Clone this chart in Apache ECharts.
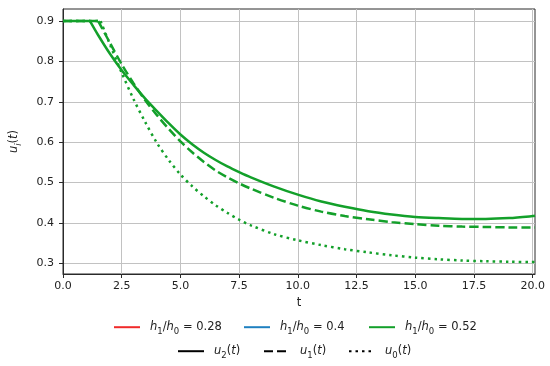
<!DOCTYPE html>
<html>
<head>
<meta charset="utf-8">
<script src="https://cdn.jsdelivr.net/npm/echarts@6/dist/echarts.min.js"></script>
<style>
html,body{margin:0;padding:0;background:#fff;}
#chart{width:550px;height:366px;}
</style>
</head>
<body>
<div id="chart"></div>
<script>
// ---- data ----
const xTicks = [0, 2.5, 5, 7.5, 10, 12.5, 15, 17.5, 20];
const yTicks = [0.3, 0.4, 0.5, 0.6, 0.7, 0.8, 0.9];

// u2(t), solid, h1/h0 = 0.52
const tU2 = [0, 1.15, 1.5, 2, 2.5, 3, 3.5, 4, 4.5, 5, 5.5, 6, 6.5, 7, 7.5, 8, 9, 10, 11, 12, 13, 14, 15, 16, 17, 18, 19, 20, 20.1];
const u2  = [0.9, 0.9, 0.865, 0.819, 0.778, 0.742, 0.708, 0.677, 0.647, 0.619, 0.595, 0.574, 0.556, 0.540, 0.526, 0.513, 0.490, 0.470, 0.453, 0.440, 0.429, 0.421, 0.415, 0.412, 0.410, 0.410, 0.412, 0.417, 0.418];

// u1(t), dashed
const tU1 = [0, 1.5, 2, 2.5, 3, 3.5, 4, 4.5, 5, 5.5, 6, 6.5, 7, 7.5, 8, 9, 10, 11, 12, 13, 14, 15, 16, 17, 18, 19, 20, 20.1];
const u1  = [0.9, 0.9, 0.846, 0.793, 0.746, 0.704, 0.667, 0.633, 0.602, 0.575, 0.551, 0.530, 0.513, 0.498, 0.485, 0.462, 0.443, 0.428, 0.417, 0.409, 0.402, 0.397, 0.393, 0.391, 0.390, 0.389, 0.389, 0.389];

// u0(t), dotted
const tU0 = [0, 1.6, 2, 2.5, 3, 3.5, 4, 4.5, 5, 5.5, 6, 6.5, 7, 7.5, 8, 9, 10, 11, 12, 13, 14, 15, 16, 17, 18, 19, 20, 20.1];
const u0  = [0.9, 0.9, 0.842, 0.772, 0.707, 0.650, 0.598, 0.556, 0.520, 0.491, 0.466, 0.444, 0.425, 0.408, 0.394, 0.372, 0.357, 0.345, 0.335, 0.327, 0.320, 0.314, 0.310, 0.307, 0.305, 0.304, 0.303, 0.303];

const ratioNames = ['0.28', '0.4', '0.52'];
const ratioColors = ['#f02a2a', '#1f80c0', '#13a02a'];
const uNames = ['2', '1', '0'];
const uTypes = ['solid', [9, 4], [2.5, 4]];

// ---- chart ----
const FONT = 'DejaVu Sans';
const pair = (ts, vs) => ts.map((t, i) => [t, vs[i]]);
const green = ratioColors[2];
const LW = 2.5;

const curves = [[tU2, u2], [tU1, u1], [tU0, u0]];
const series = [];
curves.forEach(([ts, vs], k) => {
  const pts = pair(ts, vs);
  // flat start (up to the corner) and the smooth decay after it
  series.push({type:'line', data: pts.slice(0, 2), symbol:'none', color: green, lineStyle:{width:LW, type: uTypes[k]}, z:3, silent:true});
  series.push({type:'line', data: pts.slice(1), symbol:'none', smooth:0.3, color: green, lineStyle:{width:LW, type: uTypes[k]}, z:3, silent:true});
});
// legend-only series
ratioNames.forEach((r, i) => series.push({name:'h' + r, type:'line', data:[], symbol:'none', showSymbol:false, color: ratioColors[i], lineStyle:{width:LW, type:'solid'}}));
uNames.forEach((u, i) => series.push({name:'u' + u, type:'line', data:[], symbol:'none', showSymbol:false, color:'#000', lineStyle:{width:LW, type: uTypes[i]}}));

const rich = {
  i: {fontFamily: FONT, fontSize: 11.5, fontStyle: 'italic', color:'#222', lineHeight: 18},
  n: {fontFamily: FONT, fontSize: 11.5, color:'#222', lineHeight: 18},
  s: {fontFamily: FONT, fontSize: 8.5, color:'#222', lineHeight: 9, verticalAlign:'bottom'},
  si: {fontFamily: FONT, fontSize: 8.5, fontStyle:'italic', color:'#222', lineHeight: 9, verticalAlign:'bottom'}
};
function legendText(name) {
  if (name[0] === 'h') return '{i|h}{s|1}{n|/}{i|h}{s|0}{n| = ' + name.slice(1) + '}';
  return '{i|u}{s|' + name.slice(1) + '}{n|(}{i|t}{n|)}';
}
const legendPos = [
  ['h0.28', 113, 329], ['h0.4', 243, 329], ['h0.52', 368, 329],
  ['u2', 177, 353], ['u1', 263, 353], ['u0', 348, 353]
];
const legends = legendPos.map(([nm, x, y]) => ({
  data: [nm], left: x, top: y - 9, padding: 0, itemWidth: 26, itemHeight: 18,
  selectedMode: false, formatter: legendText,
  itemStyle: {opacity: 0},
  textStyle: {rich: rich, padding: [0, 0, 0, 5]}
}));

const option = {
  animation: false,
  backgroundColor: '#fff',
  grid: {left: 55, right: 15, top: 9, bottom: 92, show: true, borderColor: '#2a2a2a', borderWidth: 1, backgroundColor: 'transparent'},
  legend: legends,
  xAxis: {
    type: 'value', min: 0, max: 20.1, interval: 2.5,
    name: 't', nameLocation: 'middle', nameGap: 23,
    nameTextStyle: {fontFamily: FONT, fontSize: 11.5, color: '#222'},
    axisLine: {show: true, lineStyle: {color: '#2a2a2a', width: 1}},
    axisTick: {show: true, length: 4, lineStyle: {color: '#2a2a2a'}, customValues: xTicks},
    axisLabel: {fontFamily: FONT, fontSize: 11, color: '#222', margin: 7, customValues: xTicks, formatter: v => v.toFixed(1)},
    splitLine: {show: true, lineStyle: {color: '#c2c2c2', width: 1}}
  },
  yAxis: {
    type: 'value', min: 0.2735, max: 0.93, minInterval: 0.1, maxInterval: 0.1, splitNumber: 7,
    name: '{i|u}{si|i}{n|(}{i|t}{n|)}', nameLocation: 'middle', nameGap: 40, nameRotate: 90,
    nameTextStyle: {rich: rich},
    axisLine: {show: true, lineStyle: {color: '#2a2a2a', width: 1}},
    axisTick: {show: true, length: 4, lineStyle: {color: '#2a2a2a'}, customValues: yTicks},
    axisLabel: {fontFamily: FONT, fontSize: 11, color: '#222', margin: 9, customValues: yTicks, formatter: v => v.toFixed(1)},
    splitLine: {show: true, lineStyle: {color: '#c2c2c2', width: 1}}
  },
  series: series
};

const chart = echarts.init(document.getElementById('chart'), null, {renderer: 'canvas'});
chart.setOption(option);
</script>
</body>
</html>
